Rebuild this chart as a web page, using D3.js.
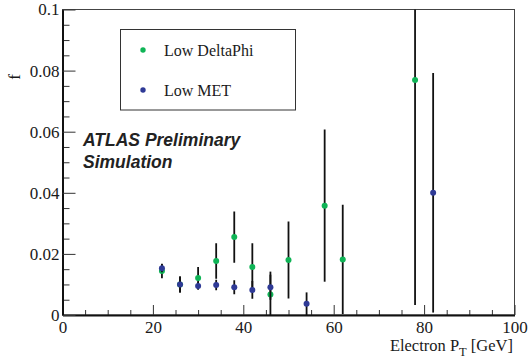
<!DOCTYPE html>
<html>
<head>
<meta charset="utf-8">
<script src="https://cdn.jsdelivr.net/npm/d3@7"></script>
<style>
  body { margin: 0; background: #fff; }
</style>
</head>
<body>
<script>
// electron pT bin centres (GeV)
const ptLowDeltaPhi = [22, 26, 30, 34, 38, 42, 46, 50, 58, 62, 78];
const fLowDeltaPhi  = [0.0144, 0.0100, 0.0121, 0.0177, 0.0255, 0.0157, 0.0067, 0.0180, 0.0358, 0.0182, 0.0769];
const errLowDeltaPhi = [0.0024, 0.0026, 0.0036, 0.0058, 0.0084, 0.0078, 0.0075, 0.0126, 0.0249, 0.0179, 0.0736];

const ptLowMET  = [22, 26, 30, 34, 38, 42, 46, 54, 82];
const fLowMET   = [0.0153, 0.0100, 0.0095, 0.0098, 0.0091, 0.0082, 0.0091, 0.0037, 0.0400];
const errLowMET = [0.0013, 0.0026, 0.0012, 0.0017, 0.0023, 0.0029, 0.0041, 0.0037, 0.0392];

const xTicks = [0, 20, 40, 60, 80, 100];
const yTicks = [0, 0.02, 0.04, 0.06, 0.08, 0.1];
const yTickLabels = ["0", "0.02", "0.04", "0.06", "0.08", "0.1"];

const SERIF = "'Liberation Serif', 'Times New Roman', Times, serif";
const SANS = "'Liberation Sans', Arial, Helvetica, sans-serif";
const TXT = "#1a1a1a";

const W = 532, H = 361;
const margin = {top: 9.5, right: 17.5, bottom: 46, left: 62.5};
const width = W - margin.left - margin.right
  , height = H - margin.top - margin.bottom;

const svg = d3.select("body").append("svg")
  .attr("width", W)
  .attr("height", H);

const g = svg.append("g")
  .attr("transform", "translate(" + margin.left + "," + margin.top + ")");

const xScale = d3.scaleLinear().domain([0, 100]).range([0, width]);
const yScale = d3.scaleLinear().domain([0, 0.1]).range([height, 0]);

g.append("defs").append("clipPath").attr("id", "clip")
  .append("rect").attr("x", 0).attr("y", 0).attr("width", width).attr("height", height);

// frame: top and right
g.append("rect")
  .attr("x", 0).attr("y", 0).attr("width", width).attr("height", height)
  .attr("fill", "none").attr("stroke", "#444").attr("stroke-width", 1);

// minor ticks
const xMinor = d3.range(0, 101, 5).filter(v => v % 20 !== 0);
const yMinor = d3.range(0, 0.1001, 0.005).filter(v => Math.abs(v / 0.02 - Math.round(v / 0.02)) > 1e-6);

g.append("g")
  .attr("transform", "translate(0," + height + ")")
  .call(d3.axisBottom(xScale).tickValues(xMinor).tickSize(-5).tickSizeOuter(0).tickFormat(""))
  .call(a => a.select(".domain").remove());
g.append("g")
  .call(d3.axisLeft(yScale).tickValues(yMinor).tickSize(-7).tickSizeOuter(0).tickFormat(""))
  .call(a => a.select(".domain").remove());

// major axes
const gX = g.append("g")
  .attr("transform", "translate(0," + height + ")")
  .call(d3.axisBottom(xScale).tickValues(xTicks).tickSize(-10).tickSizeOuter(0).tickPadding(6));
gX.selectAll("text").attr("y", 5.5)
  .style("font-family", SERIF).style("font-size", "17px").style("fill", TXT);

const gY = g.append("g")
  .call(d3.axisLeft(yScale).tickValues(yTicks).tickSize(-13).tickSizeOuter(0).tickPadding(3)
    .tickFormat((d, i) => yTickLabels[i]));
gY.selectAll("text")
  .style("font-family", SERIF).style("font-size", "17px").style("fill", TXT);

g.selectAll(".tick line").attr("stroke", "#333").attr("stroke-width", 1);
g.selectAll(".domain").attr("stroke", "#111").attr("stroke-width", 2);

// axis titles
svg.append("text")
  .attr("text-anchor", "end")
  .attr("x", 513).attr("y", 350.5)
  .style("font-family", SERIF).style("font-size", "16.5px").style("fill", TXT)
  .call(t => {
    t.append("tspan").text("Electron P");
    t.append("tspan").text("T").attr("dy", 5).style("font-size", "12.5px");
    t.append("tspan").text(" [GeV]").attr("dy", -5);
  });

svg.append("text")
  .attr("transform", "translate(20,77) rotate(-90)")
  .attr("text-anchor", "middle")
  .style("font-family", SERIF).style("font-size", "17px").style("fill", TXT)
  .text("f");

// data
const charts = g.append("g").attr("clip-path", "url(#clip)");

function seriesFor(xs, ys, errs, colour) {
  const data = xs.map((x, i) => ({x: x, y: ys[i], e: errs[i]}));
  charts.selectAll(null)
    .data(data)
    .enter().append("line")
    .attr("x1", d => xScale(d.x)).attr("x2", d => xScale(d.x))
    .attr("y1", d => yScale(Math.max(0, d.y - d.e)))
    .attr("y2", d => yScale(d.y + d.e))
    .attr("stroke", "#111").attr("stroke-width", 1.8);
  charts.selectAll(null)
    .data(data)
    .enter().append("circle")
    .attr("cx", d => xScale(d.x))
    .attr("cy", d => yScale(d.y))
    .attr("r", 3)
    .attr("fill", colour);
}

seriesFor(ptLowDeltaPhi, fLowDeltaPhi, errLowDeltaPhi, "#0fb456");
seriesFor(ptLowMET, fLowMET, errLowMET, "#2f3a96");

// legend
const legend = svg.append("g");
legend.append("rect")
  .attr("x", 120.5).attr("y", 29.5).attr("width", 175).attr("height", 80.5)
  .attr("fill", "#fff").attr("stroke", "#333").attr("stroke-width", 1);
const legendItems = [["Low DeltaPhi", "#0fb456"], ["Low MET", "#2f3a96"]];
legendItems.forEach((d, i) => {
  legend.append("circle").attr("cx", 143).attr("cy", 50 + i * 40).attr("r", 2.7).attr("fill", d[1]);
  legend.append("text").attr("x", 164).attr("y", 55.5 + i * 40)
    .style("font-family", SERIF).style("font-size", "16px").style("fill", TXT)
    .text(d[0]);
});

// label
["ATLAS Preliminary", "Simulation"].forEach((s, i) => {
  svg.append("text")
    .attr("x", 83).attr("y", 146 + i * 22)
    .style("font-family", SANS).style("font-weight", "bold").style("font-style", "italic")
    .style("font-size", "17.5px").style("fill", "#222")
    .text(s);
});
</script>
</body>
</html>
